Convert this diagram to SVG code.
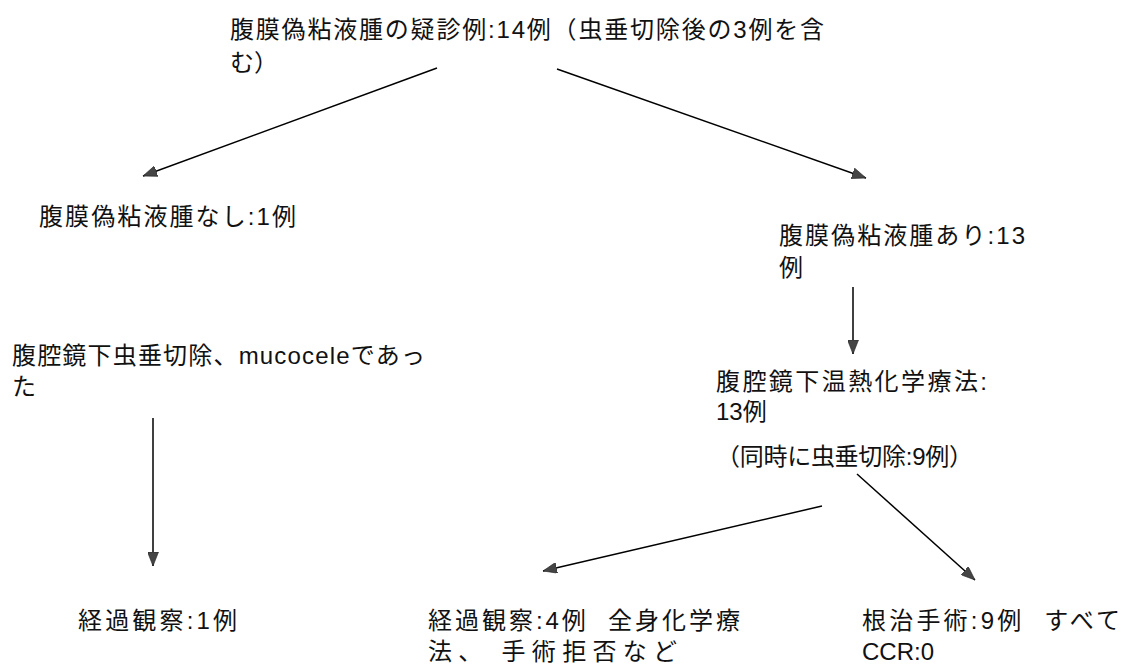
<svg xmlns="http://www.w3.org/2000/svg" width="1134" height="668" viewBox="0 0 1134 668">
<style>
text{font-family:"Liberation Sans","Noto Sans CJK JP",sans-serif;font-size:24px;fill:#111;white-space:pre}
.c line{stroke:#000;stroke-width:1.5;fill:none}
</style>
<defs>
<marker id="ah" viewBox="0 0 14 11" refX="14" refY="5.5" markerWidth="14" markerHeight="11" markerUnits="userSpaceOnUse" orient="auto">
<path d="M0,0 L14,5.5 L0,11 Z" fill="#454545" stroke="#222" stroke-width="0.6"/>
</marker>
</defs>
<rect width="1134" height="668" fill="#fff"/>
<g id="n1"><text x="230" y="38" textLength="594" lengthAdjust="spacing">腹膜偽粘液腫の疑診例:14例（虫垂切除後の3例を含</text><text x="230" y="71">む）</text></g>
<g id="n2"><text x="39" y="225" textLength="257" lengthAdjust="spacing">腹膜偽粘液腫なし:1例</text></g>
<g id="n3"><text x="779" y="244" textLength="246" lengthAdjust="spacing">腹膜偽粘液腫あり:13</text><text x="779" y="276">例</text></g>
<g id="n4"><text x="12" y="364" textLength="413" lengthAdjust="spacing">腹腔鏡下虫垂切除、mucoceleであっ</text><text x="12" y="395">た</text></g>
<g id="n5"><text x="716" y="390" textLength="271" lengthAdjust="spacing">腹腔鏡下温熱化学療法:</text><text x="716" y="420">13例</text><text x="716" y="465" textLength="257" lengthAdjust="spacing">（同時に虫垂切除:9例）</text></g>
<g id="n6"><text x="78" y="629" textLength="159" lengthAdjust="spacing">経過観察:1例</text></g>
<g id="n7"><text x="428" y="629" textLength="312" lengthAdjust="spacing">経過観察:4例  全身化学療</text><text x="428" y="660" textLength="249" lengthAdjust="spacing">法、 手術拒否など</text></g>
<g id="n8"><text x="862" y="629" textLength="258" lengthAdjust="spacing">根治手術:9例  すべて</text><text x="862" y="660">CCR:0</text></g>
<g class="c" id="connectors">
<line x1="437" y1="68" x2="143" y2="176" marker-end="url(#ah)"/>
<line x1="557" y1="69" x2="866" y2="178" marker-end="url(#ah)"/>
<line x1="853" y1="287" x2="853" y2="354" marker-end="url(#ah)"/>
<line x1="153" y1="418" x2="153" y2="566" marker-end="url(#ah)"/>
<line x1="822" y1="506" x2="543" y2="571" marker-end="url(#ah)"/>
<line x1="857" y1="474" x2="975" y2="580" marker-end="url(#ah)"/>
</g>
</svg>
